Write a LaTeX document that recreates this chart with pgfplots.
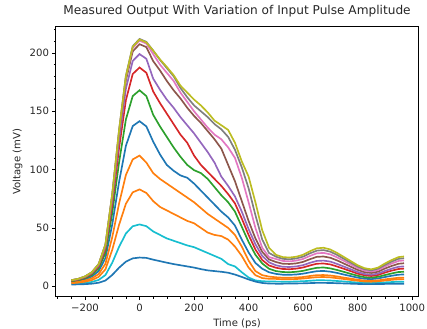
\documentclass[border=0pt]{standalone}
\usepackage{fontspec}
\setmainfont{DejaVu Sans}
\usepackage{pgfplots}
\usepackage{pgfplotstable}
\pgfplotsset{compat=1.18}
\definecolor{C0}{HTML}{1F77B4}
\definecolor{C1}{HTML}{FF7F0E}
\definecolor{C2}{HTML}{2CA02C}
\definecolor{C3}{HTML}{D62728}
\definecolor{C4}{HTML}{9467BD}
\definecolor{C5}{HTML}{8C564B}
\definecolor{C6}{HTML}{E377C2}
\definecolor{C7}{HTML}{7F7F7F}
\definecolor{C8}{HTML}{BCBD22}
\definecolor{C9}{HTML}{17BECF}
\pgfplotstableread{
t b25 cy oC oD bA gr rd pu br pk gy ol
-250 1.5 2.0 2.6 3.2 3.8 4.3 4.7 5.0 5.1 5.2 5.2 5.2
-225 1.6 2.3 3.1 3.8 4.5 5.2 5.7 6.0 6.2 6.2 6.3 6.3
-200 1.8 2.8 3.9 4.9 5.9 6.9 7.5 7.9 8.2 8.3 8.4 8.4
-175 2.2 3.7 5.3 6.8 8.3 9.7 10.7 11.3 11.7 11.9 12.0 11.9
-150 3.0 5.4 8.0 10.4 12.9 15.2 16.9 17.8 18.6 18.8 18.9 18.9
-125 4.9 9.6 14.5 19.3 24.2 28.6 31.8 33.7 35.1 35.6 35.8 35.7
-100 9.7 20.2 31.3 42.1 53.0 62.8 70.0 74.3 77.4 78.5 79.1 78.9
-75 15.9 33.8 52.7 70.9 89.5 106.2 118.5 125.7 131.1 133.0 133.9 133.6
-50 21.1 45.2 70.7 95.4 120.4 143.0 159.5 169.3 176.5 179.1 180.4 179.9
-25 23.9 51.4 80.5 108.7 137.3 163.0 181.9 193.1 201.3 204.2 205.7 205.2
0 24.6 53.0 83.0 112.0 141.5 168.0 187.5 199.0 207.5 210.5 212.0 211.5
25 24.3 51.5 80 106 137 163 183 195 205 208 209.5 209
50 22.8 47 73 97 124 147 167 178 193 199 202 202
75 21.5 44 68 92 113 137 157 168.5 185 190 194 194.5
100 20.2 41 65 88 104 128 148 160 176 183 187 188
125 19 39 62 84 99 119 139 153 168 176 180 181
150 18 37 59 80 95 111 130 145 161 166 170 172
175 17 35 56 76 93 104 123 138 153 158 162 166
200 16 33.5 54 72 88 99.5 112 131 146 150 155 160
225 14.7 31 50 67 82 97 104 123 140 143 150 155
250 13.6 28.5 46 62 76 92 98 115 133 136 145 149
275 13 26 44 58 70 85 92 106 126 130 139 142
300 12.4 23.5 43 54 64 78 86 94 118 126 134.5 138
325 11.6 19 40 50 59 72 79 86 104 119 128 134
350 10 17 34 44 52 64 71 77 90 110 117 123
375 8 12 26 34 40 51 58 64 73 93 102 107
400 5.8 7.5 16 22 29 38 44 49 56 72 84 94
425 4 5 9.5 13 20 27 31.5 36 41 50 61 72
450 2.8 4.3 7 9.5 15 19.5 22.5 26 29.5 33 40 48
475 2.3 4.1 6.4 8.3 12 15 17.8 20.5 23 25 28.5 33
500 2.2 4.0 6.3 7.7 10.6 13.0 15.9 18.0 20.8 23.4 25.4 27
525 2.2 3.9 6.0 7.3 9.9 12.2 14.8 16.7 19.3 21.7 23.5 25
550 2.3 3.9 6.0 7.3 9.8 12.0 14.6 16.5 19.1 21.3 23.1 24.6
575 2.4 4.1 6.2 7.5 10.1 12.4 15.1 17.0 19.6 22.0 23.8 25.3
600 2.5 4.3 6.6 7.9 10.8 13.2 16.1 18.1 20.9 23.4 25.4 27
625 2.7 4.7 7.2 8.8 11.9 14.6 17.8 20.1 23.2 26.0 28.2 30
650 2.9 5.1 7.8 9.5 12.9 15.8 19.3 21.7 25.2 28.2 30.5 32.5
675 2.9 5.1 7.9 9.6 13.1 16.1 19.5 22.0 25.5 28.6 31.0 33
700 2.8 4.9 7.6 9.2 12.5 15.3 18.7 21.1 24.4 27.3 29.6 31.5
725 2.6 4.5 6.9 8.4 11.4 13.9 16.9 19.1 22.1 24.7 26.8 28.5
750 2.4 4.1 6.2 7.4 10.0 12.3 14.9 16.8 19.4 21.7 23.5 25
775 2.2 3.6 5.4 6.5 8.7 10.6 12.9 14.5 16.7 18.7 20.2 21.5
800 2.0 3.2 4.7 5.6 7.4 9.0 10.8 12.2 14.0 15.7 16.9 18
825 1.8 2.8 4.1 4.8 6.4 7.8 9.4 10.5 12.1 13.5 14.6 15.5
850 1.8 2.7 3.9 4.6 6.1 7.4 8.8 9.9 11.4 12.7 13.7 14.5
875 1.9 2.9 4.2 5.0 6.7 8.1 9.7 10.9 12.5 13.9 15.1 16
900 2.0 3.3 4.9 5.9 7.9 9.6 11.7 13.1 15.2 17.0 18.3 19.5
925 2.1 3.6 5.5 6.6 9.0 11.0 13.4 15.1 17.4 19.5 21.2 22.5
950 2.2 3.9 6.0 7.3 9.9 12.2 14.8 16.7 19.3 21.7 23.5 25
970 2.2 3.9 6.1 7.4 10.1 12.4 15.1 17.0 19.7 22.1 24.0 25.5
}\data
\begin{document}
\begin{tikzpicture}
\begin{axis}[
  scale only axis, width=370pt, height=276pt,
  xmin=-307, xmax=1022, ymin=-9, ymax=222.7,
  xtick={-200,0,200,400,600,800,1000},
  xticklabels={−200,0,200,400,600,800,1000},
  ytick={0,50,100,150,200},
  minor xtick={-300,-250,-150,-100,-50,50,100,150,250,300,350,450,500,550,650,700,750,850,900,950},
  minor ytick={10,20,30,40,60,70,80,90,110,120,130,140,160,170,180,190,210,220},
  tick pos=left, tick align=outside,
  major tick length=3.5pt, minor tick length=2pt,
  major tick style={line width=0.8pt, black},
  minor tick style={line width=0.6pt, black},
  axis line style={line width=0.8pt},
  /pgf/number format/assume math mode=true,
  tick label style={font=\fontsize{10.3}{12}\selectfont, text=black!85},
  title={Measured Output With Variation of Input Pulse Amplitude},
  title style={font=\fontsize{12.4}{14}\selectfont, text=black!85, at={(axis description cs:0.5,1.0228)}, anchor=base},
  xlabel={Time (ps)},
  xlabel style={font=\fontsize{10.3}{12}\selectfont, text=black!85, at={(axis description cs:0.5,-0.1087)}, anchor=base},
  ylabel={Voltage (mV)},
  ylabel style={font=\fontsize{10.3}{12}\selectfont, text=black!85, at={(axis description cs:-0.1054,0.5)}, anchor=center},
  every axis plot/.append style={line width=1.7pt, no markers},
]
\addplot[C0] table[x=t,y=bA]{\data};
\addplot[C1] table[x=t,y=oD]{\data};
\addplot[C2] table[x=t,y=gr]{\data};
\addplot[C3] table[x=t,y=rd]{\data};
\addplot[C4] table[x=t,y=pu]{\data};
\addplot[C5] table[x=t,y=br]{\data};
\addplot[C6] table[x=t,y=pk]{\data};
\addplot[C7] table[x=t,y=gy]{\data};
\addplot[C8] table[x=t,y=ol]{\data};
\addplot[C9] table[x=t,y=cy]{\data};
\addplot[C0] table[x=t,y=b25]{\data};
\addplot[C1] table[x=t,y=oC]{\data};
\end{axis}
\pgfresetboundingbox
\useasboundingbox ([xshift=-57pt,yshift=-32pt]current axis.south west) rectangle ([xshift=9pt,yshift=27pt]current axis.north east);
\end{tikzpicture}
\end{document}
